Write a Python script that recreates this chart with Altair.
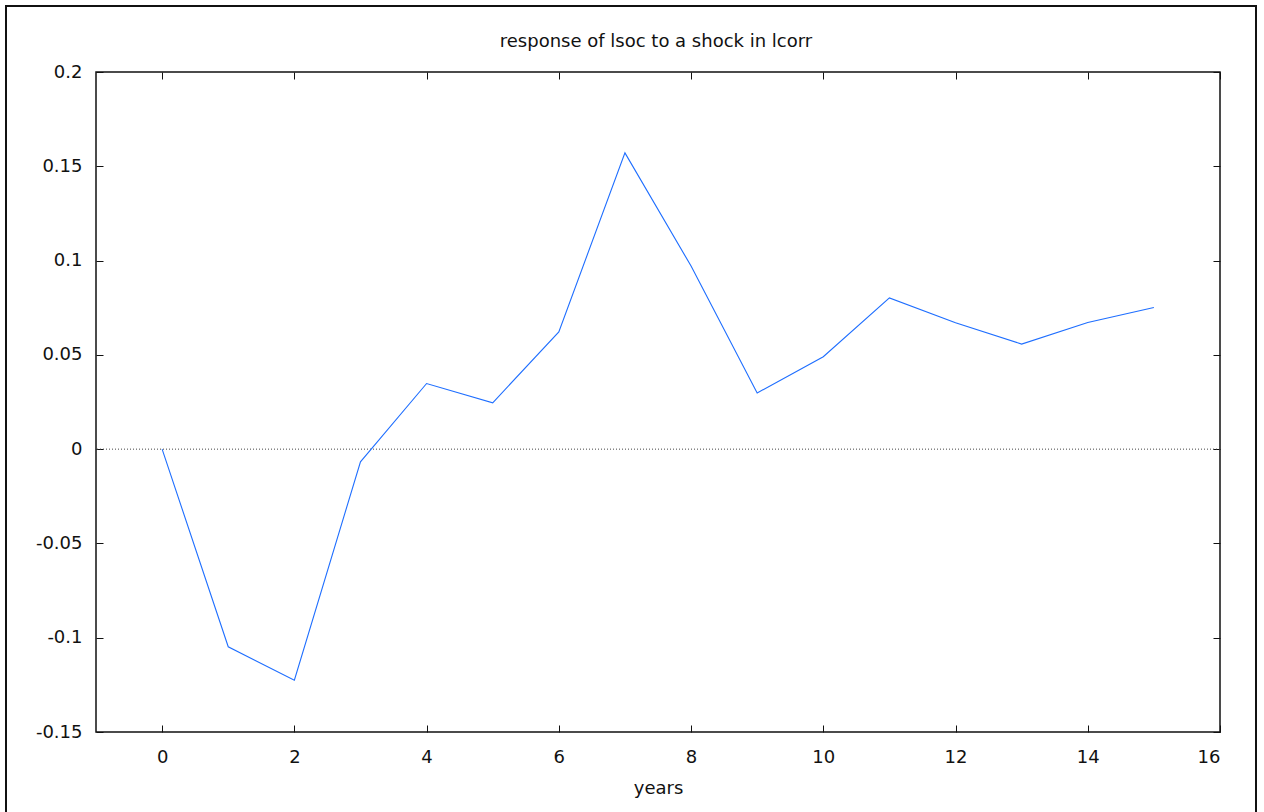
import altair as alt
import pandas as pd

# data
periods = list(range(16))
response = [0.0, -0.1048, -0.1225, -0.0067, 0.0348, 0.0246, 0.0622, 0.1571,
            0.0971, 0.0298, 0.0490, 0.0802, 0.0670, 0.0557, 0.0672, 0.0751]
x_ticks = [0, 2, 4, 6, 8, 10, 12, 14, 16]
y_ticks = [-0.15, -0.1, -0.05, 0, 0.05, 0.1, 0.15, 0.2]
title_text = "response of lsoc to a shock in lcorr"

W, H = 1124, 660
FONT = "DejaVu Sans"
FS = 18

df = pd.DataFrame({"period": periods, "response": response})

xs = alt.Scale(domain=[-1, 16], nice=False, zero=False)
ys = alt.Scale(domain=[-0.15, 0.2], nice=False, zero=False)

label_expr = "'' + datum.value"

# main line with labelled axes
main = alt.Chart(df).mark_line(color="#1e6eff", strokeWidth=1.1).encode(
    x=alt.X("period:Q", scale=xs, axis=alt.Axis(
        orient="bottom", values=x_ticks, ticks=False, domain=False, grid=False,
        labelExpr=label_expr, labelPadding=16, labelFont=FONT, labelFontSize=FS,
        labelColor="#111", title="years", titleFont=FONT, titleFontSize=FS,
        titleFontWeight="normal", titleColor="#111", titlePadding=13)),
    y=alt.Y("response:Q", scale=ys, axis=alt.Axis(
        orient="left", values=y_ticks, ticks=False, domain=False, grid=False,
        labelExpr=label_expr, labelPadding=14, labelFont=FONT, labelFontSize=FS,
        labelColor="#111", labelBaseline="middle", title=None)),
)

def tick_layer(xorient, yorient):
    return alt.Chart(df).mark_line(opacity=0).encode(
        x=alt.X("period:Q", scale=xs, axis=alt.Axis(
            orient=xorient, offset=-H, values=x_ticks, labels=False, domain=False,
            grid=False, ticks=True, tickSize=7, tickColor="#111", tickWidth=1, title=None)),
        y=alt.Y("response:Q", scale=ys, axis=alt.Axis(
            orient=yorient, offset=-W, values=y_ticks, labels=False, domain=False,
            grid=False, ticks=True, tickSize=7, tickColor="#111", tickWidth=1, title=None)),
    )

ticks_a = tick_layer("top", "right")     # bottom edge & left edge, pointing inward
ticks_b = tick_layer("bottom", "left")   # top edge & right edge, pointing inward

zero = alt.Chart(alt.Data(values=[{"v": 0}])).mark_rule(
    color="#444", strokeWidth=1, strokeDash=[1, 2]
).encode(y=alt.Y("v:Q", scale=ys, axis=None))

frame = alt.Chart(alt.Data(values=[{"f": 1}])).mark_rect(
    filled=False, stroke="#111", strokeWidth=2
).encode(x=alt.value(-90), x2=alt.value(1160), y=alt.value(-66), y2=alt.value(780))

title = alt.Chart(alt.Data(values=[{"t": title_text}])).mark_text(
    font=FONT, fontSize=FS, color="#111", align="center", baseline="alphabetic"
).encode(text="t:N", x=alt.value(W / 2 - 2), y=alt.value(-25))

chart = alt.layer(frame, zero, main, ticks_a, ticks_b, title).resolve_axis(
    x="independent", y="independent"
).properties(
    width=W, height=H,
    autosize=alt.AutoSizeParams(type="none"),
    padding={"left": 96, "top": 72, "right": 44, "bottom": 80},
).configure(background="white").configure_view(stroke="#111", strokeWidth=1.5)

chart.save("out.html", embed_options={"renderer": "svg", "actions": False})
